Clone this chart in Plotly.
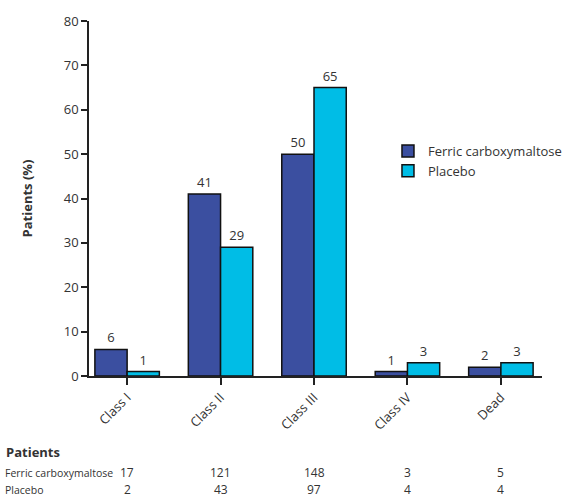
import plotly.graph_objects as go

# NYHA class at follow-up, by treatment group
categories = ["Class I", "Class II", "Class III", "Class IV", "Dead"]
fcm_pct = [6, 41, 50, 1, 2]
placebo_pct = [1, 29, 65, 3, 3]
fcm_n = [17, 121, 148, 3, 5]
placebo_n = [2, 43, 97, 4, 4]
series_names = ["Ferric carboxymaltose", "Placebo"]

FONT = "Open Sans"
TXT = "#333333"
FCM_COLOR = "#3b4fa0"
PLACEBO_COLOR = "#00bde6"

fig = go.Figure()
for name, vals, color in [
    (series_names[0], fcm_pct, FCM_COLOR),
    (series_names[1], placebo_pct, PLACEBO_COLOR),
]:
    fig.add_trace(go.Bar(
        x=categories, y=vals, name=name,
        marker=dict(color=color, line=dict(color="#111111", width=1.5)),
        text=vals, textposition="outside", cliponaxis=False,
        textfont=dict(family=FONT, size=13, color=TXT),
    ))

# Patient-count table underneath the axis
row_y = [-0.272, -0.321]
annotations = [dict(
    text="<b>Patients</b>", xref="paper", yref="paper",
    x=-0.188, y=-0.2145, xanchor="left", yanchor="middle", showarrow=False,
    font=dict(family=FONT, size=13, color=TXT),
)]
for label, counts, yy in zip(series_names, [fcm_n, placebo_n], row_y):
    annotations.append(dict(
        text=label, xref="paper", yref="paper", x=-0.19, y=yy,
        xanchor="left", yanchor="middle", showarrow=False,
        font=dict(family=FONT, size=10.5, color=TXT),
    ))
    for cat, c in zip(categories, counts):
        annotations.append(dict(
            text=str(c), xref="x", yref="paper", x=cat, y=yy,
            xanchor="center", yanchor="middle", showarrow=False,
            font=dict(family=FONT, size=12, color=TXT),
        ))

fig.update_layout(
    width=579, height=499,
    margin=dict(l=89, r=27, t=17, b=123),
    paper_bgcolor="white", plot_bgcolor="white",
    barmode="group", bargap=0.31, bargroupgap=0,
    font=dict(family=FONT, size=12, color=TXT),
    legend=dict(
        x=0.66, y=0.676, xanchor="left", yanchor="top",
        font=dict(family=FONT, size=13, color=TXT),
        itemwidth=30, tracegroupgap=0, bgcolor="rgba(0,0,0,0)",
    ),
    xaxis=dict(
        range=[-0.408, 4.44], showline=True, linecolor="#222222", linewidth=1.5,
        ticks="outside", ticklen=7, tickcolor="#222222", tickwidth=1.5,
        tickangle=-45, tickfont=dict(family=FONT, size=13, color=TXT),
        showgrid=False, zeroline=False, fixedrange=True,
    ),
    yaxis=dict(
        range=[0, 80], dtick=10, showline=True, linecolor="#222222", linewidth=1.5,
        ticks="outside", ticklen=6, tickcolor="#222222", tickwidth=1.5,
        tickfont=dict(family=FONT, size=13, color=TXT),
        showgrid=False, zeroline=False,
        title=dict(text="<b>Patients (%)</b>", font=dict(family=FONT, size=13, color=TXT),
                   standoff=28),
    ),
    annotations=annotations,
    showlegend=True,
)

fig.write_html("out.html")
